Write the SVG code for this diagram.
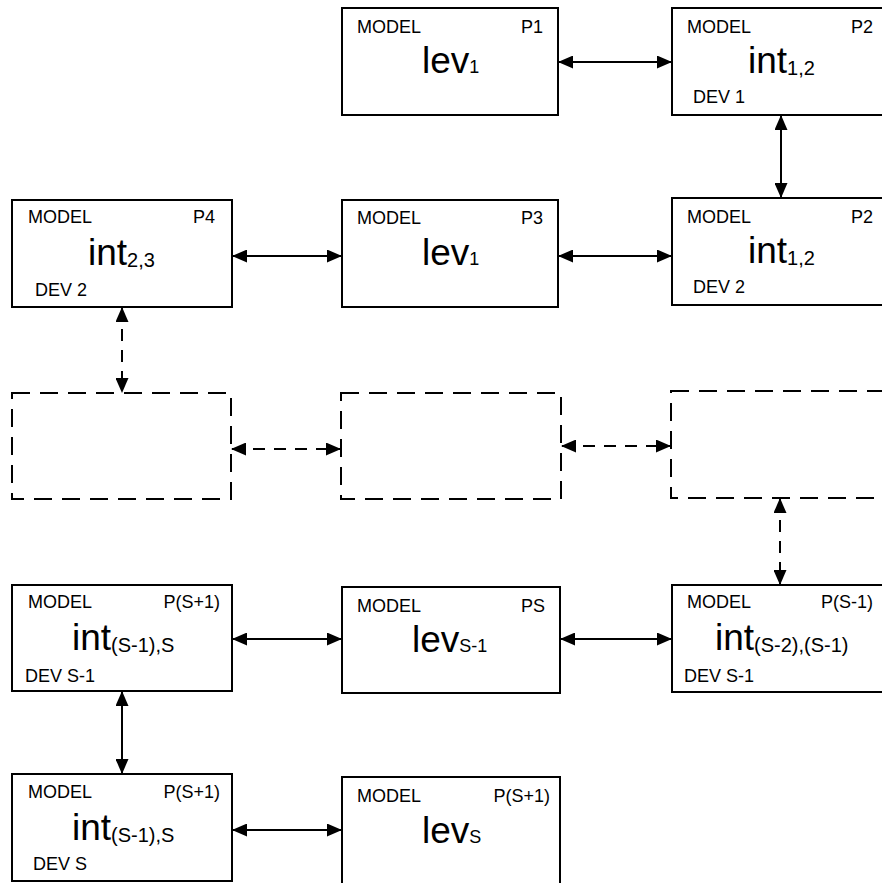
<svg xmlns="http://www.w3.org/2000/svg" width="882" height="883" viewBox="0 0 882 883">
<style>
.box{fill:#fff;stroke:#000;stroke-width:2}
.dbox{fill:none;stroke:#000;stroke-width:2;stroke-dasharray:18,10}
.lbl{font-family:"Liberation Sans",Arial,sans-serif;font-size:18px;fill:#000}
.r{text-anchor:end}
.big{font-family:"Liberation Sans",Arial,sans-serif;font-size:37px;fill:#000}
.sub{font-size:20px}
.lsub{font-size:18px}
.ln{stroke:#000;stroke-width:2;fill:none;marker-start:url(#ah);marker-end:url(#ah)}
.dash{stroke-dasharray:12,9}
</style>
<defs>
<marker id="ah" markerUnits="userSpaceOnUse" markerWidth="15" markerHeight="13" refX="14" refY="6.5" orient="auto-start-reverse">
<path d="M0,0 L15,6.5 L0,13 Z" fill="#000"/>
</marker>
</defs>
<rect width="882" height="883" fill="#fff"/>
<g id="connectors">
<line class="ln" x1="559" y1="62" x2="671" y2="62"/>
<line class="ln" x1="781" y1="116" x2="781" y2="197"/>
<line class="ln" x1="233" y1="256" x2="341" y2="256"/>
<line class="ln" x1="559" y1="256" x2="671" y2="256"/>
<line class="ln dash" x1="122" y1="308" x2="122" y2="392"/>
<line class="ln dash" x1="232" y1="449" x2="340" y2="449"/>
<line class="ln dash" x1="562" y1="446" x2="670" y2="446"/>
<line class="ln dash" x1="780" y1="499" x2="780" y2="584"/>
<line class="ln" x1="233" y1="639" x2="341" y2="639"/>
<line class="ln" x1="561" y1="639" x2="671" y2="639"/>
<line class="ln" x1="122" y1="692" x2="122" y2="773"/>
<line class="ln" x1="233" y1="830" x2="341" y2="830"/>
</g>
<g id="n1">
<rect class="box" x="342" y="8" width="216" height="107"/>
<text class="lbl" x="357" y="33">MODEL</text>
<text class="lbl r" x="543" y="33">P1</text>
<text class="big" x="422" y="73">lev<tspan class="lsub">1</tspan></text>
</g>
<g id="n2">
<rect class="box" x="672" y="8" width="216" height="107"/>
<text class="lbl" x="687" y="33">MODEL</text>
<text class="lbl r" x="873" y="33">P2</text>
<text class="big" x="748" y="73">int<tspan class="sub" dy="2">1,2</tspan></text>
<text class="lbl" x="693" y="103">DEV 1</text>
</g>
<g id="n3">
<rect class="box" x="672" y="198" width="216" height="107"/>
<text class="lbl" x="687" y="223">MODEL</text>
<text class="lbl r" x="873" y="223">P2</text>
<text class="big" x="748" y="263">int<tspan class="sub" dy="2">1,2</tspan></text>
<text class="lbl" x="693" y="293">DEV 2</text>
</g>
<g id="n4">
<rect class="box" x="342" y="200" width="216" height="107"/>
<text class="lbl" x="357" y="224">MODEL</text>
<text class="lbl r" x="543" y="224">P3</text>
<text class="big" x="422" y="265">lev<tspan class="lsub">1</tspan></text>
</g>
<g id="n5">
<rect class="box" x="12" y="200" width="220" height="107"/>
<text class="lbl" x="28" y="223">MODEL</text>
<text class="lbl r" x="215" y="223">P4</text>
<text class="big" x="88" y="265">int<tspan class="sub" dy="2">2,3</tspan></text>
<text class="lbl" x="35" y="296">DEV 2</text>
</g>
<g id="d1"><rect class="dbox" x="12" y="393" width="219" height="106"/></g>
<g id="d2"><rect class="dbox" x="341" y="393" width="220" height="106"/></g>
<g id="d3"><rect class="dbox" x="671" y="391" width="230" height="107"/></g>
<g id="n6">
<rect class="box" x="12" y="585" width="220" height="106"/>
<text class="lbl" x="28" y="608">MODEL</text>
<text class="lbl r" x="220" y="608">P(S+1)</text>
<text class="big" x="72" y="650">int<tspan class="sub" dy="2">(S-1),S</tspan></text>
<text class="lbl" x="25" y="682">DEV S-1</text>
</g>
<g id="n7">
<rect class="box" x="342" y="587" width="218" height="106"/>
<text class="lbl" x="357" y="612">MODEL</text>
<text class="lbl r" x="545" y="612">PS</text>
<text class="big" x="412" y="652">lev<tspan class="lsub">S-1</tspan></text>
</g>
<g id="n8">
<rect class="box" x="672" y="585" width="216" height="107"/>
<text class="lbl" x="687" y="608">MODEL</text>
<text class="lbl r" x="873" y="608">P(S-1)</text>
<text class="big" x="715" y="650">int<tspan class="sub" dy="2">(S-2),(S-1)</tspan></text>
<text class="lbl" x="684" y="682">DEV S-1</text>
</g>
<g id="n9">
<rect class="box" x="12" y="774" width="220" height="107"/>
<text class="lbl" x="28" y="798">MODEL</text>
<text class="lbl r" x="220" y="798">P(S+1)</text>
<text class="big" x="72" y="840">int<tspan class="sub" dy="2">(S-1),S</tspan></text>
<text class="lbl" x="33" y="870">DEV S</text>
</g>
<g id="n10">
<rect class="box" x="342" y="777" width="218" height="120"/>
<text class="lbl" x="357" y="802">MODEL</text>
<text class="lbl r" x="550" y="802">P(S+1)</text>
<text class="big" x="422" y="843">lev<tspan class="lsub">S</tspan></text>
</g>
</svg>
